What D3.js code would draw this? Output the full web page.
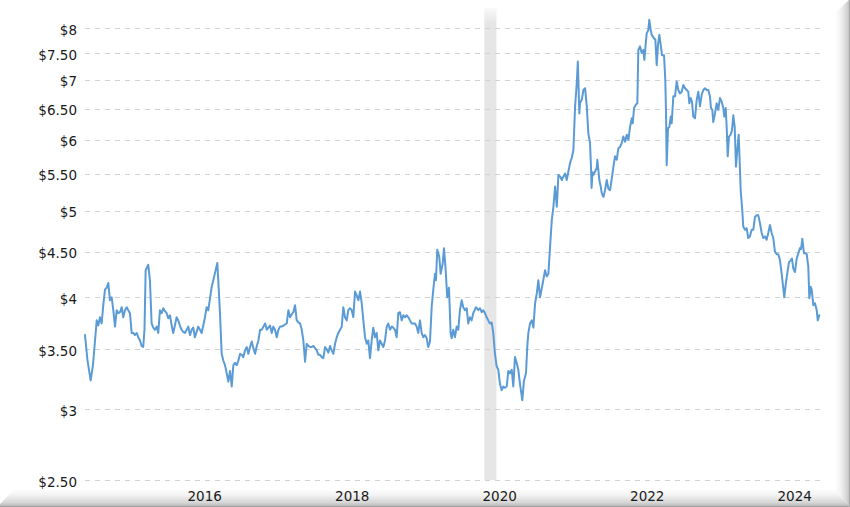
<!DOCTYPE html>
<html><head><meta charset="utf-8">
<script src="https://cdn.jsdelivr.net/npm/d3@7"></script>
<style>html,body{margin:0;padding:0;background:#fff;} svg{display:block;}</style>
</head><body><svg id="c" width="850" height="507"></svg>
<script>
// ---- data ----
const yTickValues = [2.5, 3, 3.5, 4, 4.5, 5, 5.5, 6, 6.5, 7, 7.5, 8];
const xTickYearStep = 2;
const recession = [2020.085, 2020.25]; // decimal years
// [decimal year, price]
const priceSeries = [
[2014.671,3.63],[2014.705,3.40],[2014.748,3.23],[2014.779,3.36],[2014.807,3.58],[2014.830,3.77],[2014.851,3.72],[2014.874,3.80],[2014.897,3.74],[2014.919,3.92],
[2014.942,4.08],[2014.965,4.10],[2014.987,4.15],[2015.010,3.97],[2015.033,4.00],[2015.055,3.87],[2015.078,3.71],[2015.101,3.87],[2015.123,3.84],[2015.146,3.85],
[2015.169,3.90],[2015.190,3.80],[2015.213,3.87],[2015.236,3.90],[2015.258,3.87],[2015.281,3.84],[2015.304,3.65],[2015.326,3.65],[2015.349,3.63],[2015.372,3.65],
[2015.394,3.61],[2015.417,3.58],[2015.440,3.53],[2015.461,3.52],[2015.478,3.68],[2015.494,4.29],[2015.512,4.32],[2015.529,4.35],[2015.552,4.18],[2015.575,3.74],
[2015.597,3.70],[2015.620,3.68],[2015.643,3.71],[2015.665,3.65],[2015.688,3.87],[2015.711,3.84],[2015.733,3.89],[2015.756,3.86],[2015.779,3.84],[2015.800,3.79],
[2015.824,3.82],[2015.847,3.72],[2015.868,3.65],[2015.891,3.72],[2015.914,3.80],[2015.936,3.77],[2015.959,3.72],[2015.982,3.68],[2016.004,3.66],[2016.027,3.65],
[2016.050,3.68],[2016.072,3.71],[2016.095,3.63],[2016.118,3.68],[2016.139,3.70],[2016.162,3.61],[2016.185,3.66],[2016.207,3.71],[2016.230,3.68],[2016.253,3.65],
[2016.275,3.72],[2016.298,3.80],[2016.321,3.90],[2016.343,3.87],[2016.366,3.99],[2016.389,4.11],[2016.411,4.18],[2016.434,4.26],[2016.465,4.37],[2016.478,4.18],
[2016.501,3.84],[2016.524,3.46],[2016.546,3.40],[2016.569,3.36],[2016.592,3.29],[2016.614,3.22],[2016.637,3.31],[2016.660,3.18],[2016.682,3.36],[2016.705,3.38],
[2016.728,3.36],[2016.750,3.40],[2016.773,3.46],[2016.796,3.45],[2016.817,3.43],[2016.840,3.49],[2016.863,3.52],[2016.885,3.46],[2016.908,3.52],[2016.931,3.57],
[2016.953,3.51],[2016.976,3.46],[2016.999,3.53],[2017.021,3.58],[2017.044,3.68],[2017.067,3.68],[2017.089,3.71],[2017.112,3.74],[2017.135,3.68],[2017.156,3.70],
[2017.179,3.72],[2017.202,3.65],[2017.224,3.71],[2017.247,3.68],[2017.270,3.61],[2017.292,3.68],[2017.315,3.71],[2017.338,3.71],[2017.360,3.72],[2017.383,3.73],
[2017.406,3.74],[2017.428,3.87],[2017.451,3.80],[2017.474,3.83],[2017.495,3.85],[2017.518,3.92],[2017.541,3.77],[2017.563,3.75],[2017.586,3.74],[2017.609,3.68],
[2017.631,3.58],[2017.654,3.39],[2017.677,3.55],[2017.699,3.53],[2017.722,3.52],[2017.745,3.52],[2017.767,3.53],[2017.790,3.51],[2017.813,3.49],[2017.834,3.45],
[2017.857,3.45],[2017.880,3.43],[2017.902,3.42],[2017.925,3.52],[2017.948,3.50],[2017.970,3.47],[2017.993,3.53],[2018.016,3.49],[2018.038,3.46],[2018.061,3.55],
[2018.084,3.61],[2018.106,3.65],[2018.129,3.68],[2018.152,3.71],[2018.173,3.90],[2018.196,3.80],[2018.219,3.77],[2018.241,3.87],[2018.264,3.89],[2018.287,3.87],
[2018.309,3.80],[2018.332,4.06],[2018.355,4.02],[2018.377,3.97],[2018.400,4.06],[2018.423,3.94],[2018.445,3.77],[2018.468,3.61],[2018.491,3.55],[2018.512,3.58],
[2018.535,3.42],[2018.558,3.58],[2018.580,3.70],[2018.603,3.61],[2018.626,3.65],[2018.648,3.49],[2018.671,3.58],[2018.694,3.55],[2018.716,3.52],[2018.739,3.58],
[2018.762,3.71],[2018.784,3.74],[2018.807,3.68],[2018.830,3.71],[2018.851,3.70],[2018.874,3.68],[2018.897,3.61],[2018.919,3.84],[2018.942,3.85],[2018.965,3.77],
[2018.987,3.82],[2019.010,3.80],[2019.033,3.82],[2019.055,3.80],[2019.078,3.77],[2019.101,3.74],[2019.123,3.74],[2019.145,3.74],[2019.168,3.71],[2019.190,3.65],
[2019.213,3.77],[2019.236,3.65],[2019.258,3.61],[2019.281,3.63],[2019.304,3.60],[2019.326,3.52],[2019.349,3.57],[2019.372,3.90],[2019.394,4.08],[2019.417,4.25],
[2019.430,4.18],[2019.448,4.52],[2019.475,4.44],[2019.494,4.25],[2019.521,4.36],[2019.539,4.54],[2019.562,4.29],[2019.583,4.00],[2019.607,4.10],[2019.629,3.65],
[2019.643,3.60],[2019.665,3.68],[2019.688,3.61],[2019.711,3.71],[2019.733,3.68],[2019.756,3.87],[2019.779,3.97],[2019.801,3.90],[2019.824,3.87],[2019.847,3.89],
[2019.868,3.74],[2019.891,3.80],[2019.914,3.77],[2019.936,3.84],[2019.973,3.90],[2020.004,3.87],[2020.027,3.89],[2020.050,3.85],[2020.072,3.87],[2020.095,3.84],
[2020.118,3.80],[2020.139,3.77],[2020.162,3.74],[2020.185,3.75],[2020.207,3.65],[2020.230,3.46],[2020.253,3.35],[2020.275,3.32],[2020.298,3.20],[2020.321,3.15],
[2020.343,3.18],[2020.366,3.17],[2020.389,3.18],[2020.411,3.31],[2020.434,3.29],[2020.457,3.32],[2020.478,3.18],[2020.501,3.43],[2020.524,3.38],[2020.546,3.32],
[2020.569,3.20],[2020.600,3.07],[2020.623,3.23],[2020.650,3.29],[2020.668,3.53],[2020.682,3.65],[2020.705,3.74],[2020.728,3.77],[2020.750,3.70],[2020.773,3.94],
[2020.796,4.04],[2020.817,4.18],[2020.840,4.00],[2020.877,4.15],[2020.908,4.29],[2020.931,4.22],[2020.953,4.25],[2020.976,4.56],[2020.999,4.88],[2021.021,5.05],
[2021.044,5.32],[2021.067,5.05],[2021.089,5.48],[2021.112,5.46],[2021.135,5.41],[2021.156,5.46],[2021.179,5.50],[2021.202,5.41],[2021.224,5.53],[2021.247,5.65],
[2021.270,5.73],[2021.292,5.84],[2021.315,6.53],[2021.338,6.94],[2021.352,7.34],[2021.373,6.42],[2021.383,6.60],[2021.406,6.65],[2021.428,6.82],[2021.451,6.85],
[2021.474,6.54],[2021.495,6.10],[2021.518,5.95],[2021.532,5.55],[2021.539,5.30],[2021.552,5.52],[2021.563,5.48],[2021.586,5.53],[2021.609,5.58],[2021.617,5.70],
[2021.631,5.55],[2021.644,5.41],[2021.663,5.32],[2021.677,5.23],[2021.699,5.18],[2021.722,5.27],[2021.745,5.41],[2021.767,5.29],[2021.790,5.27],[2021.813,5.43],
[2021.834,5.59],[2021.857,5.75],[2021.880,5.70],[2021.902,5.87],[2021.925,5.89],[2021.948,5.95],[2021.970,6.05],[2021.993,5.97],[2022.016,6.08],[2022.038,6.00],
[2022.061,6.20],[2022.084,6.34],[2022.097,6.26],[2022.115,6.51],[2022.142,6.57],[2022.160,6.59],[2022.173,7.56],[2022.196,7.63],[2022.219,7.50],[2022.241,7.56],
[2022.255,7.37],[2022.274,7.69],[2022.287,7.89],[2022.309,7.96],[2022.322,8.17],[2022.341,7.96],[2022.355,7.86],[2022.386,7.79],[2022.404,7.77],[2022.423,7.27],
[2022.440,7.66],[2022.458,7.86],[2022.477,7.66],[2022.495,7.46],[2022.522,7.46],[2022.539,7.00],[2022.549,6.43],[2022.558,5.62],[2022.576,6.18],[2022.594,6.20],
[2022.613,6.37],[2022.626,6.26],[2022.648,6.71],[2022.671,6.71],[2022.694,6.97],[2022.716,6.82],[2022.739,6.76],[2022.762,6.79],[2022.784,6.91],[2022.807,6.85],
[2022.830,6.82],[2022.851,6.79],[2022.865,6.59],[2022.884,6.68],[2022.901,6.62],[2022.919,6.37],[2022.942,6.34],[2022.965,6.65],[2022.987,6.79],[2023.010,6.54],
[2023.033,6.74],[2023.055,6.82],[2023.078,6.85],[2023.101,6.82],[2023.123,6.82],[2023.145,6.71],[2023.159,6.51],[2023.177,6.48],[2023.190,6.28],[2023.213,6.42],
[2023.236,6.59],[2023.258,6.48],[2023.281,6.68],[2023.304,6.62],[2023.326,6.51],[2023.340,6.37],[2023.359,6.51],[2023.372,6.20],[2023.386,5.75],[2023.403,6.05],
[2023.426,6.08],[2023.444,6.15],[2023.462,6.39],[2023.481,6.20],[2023.498,5.60],[2023.516,5.84],[2023.535,6.08],[2023.552,5.57],[2023.562,5.27],[2023.583,5.01],
[2023.597,4.80],[2023.620,4.76],[2023.643,4.78],[2023.665,4.66],[2023.688,4.68],[2023.711,4.76],[2023.733,4.76],[2023.756,4.92],[2023.779,4.94],[2023.801,4.94],
[2023.824,4.84],[2023.847,4.72],[2023.868,4.66],[2023.891,4.68],[2023.914,4.64],[2023.936,4.72],[2023.959,4.82],[2023.982,4.72],[2024.004,4.66],[2024.027,4.50],
[2024.050,4.47],[2024.072,4.47],[2024.095,4.40],[2024.118,4.25],[2024.139,4.10],[2024.153,4.00],[2024.172,4.13],[2024.193,4.25],[2024.217,4.38],[2024.240,4.40],
[2024.257,4.42],[2024.275,4.31],[2024.298,4.27],[2024.321,4.42],[2024.343,4.48],[2024.366,4.54],[2024.380,4.53],[2024.397,4.65],[2024.420,4.48],[2024.438,4.48],
[2024.457,4.47],[2024.478,4.33],[2024.492,3.99],[2024.511,4.11],[2024.524,4.08],[2024.546,3.92],[2024.569,3.94],[2024.592,3.87],[2024.606,3.77],[2024.627,3.82]
];

// ---- helpers ----
function toDate(dy){
  const yr = Math.floor(dy);
  const a = new Date(yr,0,1), b = new Date(yr+1,0,1);
  return new Date(+a + (dy-yr)*(b-a));
}
const fmtPrice = v => Number.isInteger(v) ? "$" + v : "$" + v.toFixed(2);

const W = 850, H = 507;
const plotLeft = 85, plotRight = 820, plotTop = 28, plotBottom = 480;
const FONT = "'DejaVu Sans', Verdana, sans-serif";

const svg = d3.select("#c");
const defs = svg.append("defs");

const x = d3.scaleTime()
  .domain([toDate(priceSeries[0][0]), toDate(priceSeries[priceSeries.length-1][0])])
  .range([plotLeft, 819.3]);
const y = d3.scaleLog().domain([2.5, 8]).range([plotBottom, plotTop]);

svg.append("rect").attr("width", W).attr("height", H).attr("fill", "#fff");

// recession band
const bandGrad = defs.append("linearGradient").attr("id","bandG").attr("x1",0).attr("y1",0).attr("x2",0).attr("y2",1);
bandGrad.append("stop").attr("offset","0").attr("stop-color","#e6e6e6").attr("stop-opacity",0.2);
bandGrad.append("stop").attr("offset","0.03").attr("stop-color","#e6e6e6").attr("stop-opacity",1);
bandGrad.append("stop").attr("offset","1").attr("stop-color","#e6e6e6").attr("stop-opacity",1);
svg.append("rect")
  .attr("x", x(toDate(recession[0])))
  .attr("width", x(toDate(recession[1])) - x(toDate(recession[0])))
  .attr("y", 8).attr("height", plotBottom - 8)
  .attr("fill", "url(#bandG)");

// gridlines
svg.append("g").selectAll("line").data(yTickValues).join("line")
  .attr("x1", plotLeft).attr("x2", plotRight)
  .attr("y1", d => Math.round(y(d)) + 0.5).attr("y2", d => Math.round(y(d)) + 0.5)
  .attr("stroke", "#d2d2d2").attr("stroke-width", 1).attr("stroke-dasharray", "5,5");

// line
const line = d3.line().x(d => x(toDate(d[0]))).y(d => y(d[1]));
svg.append("path").datum(priceSeries)
  .attr("d", line).attr("fill", "none")
  .attr("stroke", "#5b9bd5").attr("stroke-width", 2)
  .attr("stroke-linejoin", "round").attr("stroke-linecap", "round");

// frame shadow (bottom and right)
const gB = defs.append("linearGradient").attr("id","shB").attr("x1",0).attr("y1",0).attr("x2",0).attr("y2",1);
[["0","#ffffff"],["0.35","#f2f2f2"],["0.75","#d6d6d6"],["0.92","#bdbdbd"],["1","#8f8f8f"]]
  .forEach(s => gB.append("stop").attr("offset", s[0]).attr("stop-color", s[1]));
const gR = defs.append("linearGradient").attr("id","shR").attr("x1",0).attr("y1",0).attr("x2",1).attr("y2",0);
[["0","#ffffff"],["0.4","#f0f0f0"],["0.8","#d4d4d4"],["0.93","#c0c0c0"],["1","#949494"]]
  .forEach(s => gR.append("stop").attr("offset", s[0]).attr("stop-color", s[1]));
svg.append("polygon").attr("points", "835,13 850,-1 850,507 835,489").attr("fill", "url(#shR)");
svg.append("polygon").attr("points", "15,489 835,489 850,507 0,507 0,504").attr("fill", "url(#shB)");

// y axis
const yAxis = d3.axisLeft(y).tickValues(yTickValues).tickFormat(fmtPrice).tickSize(0).tickPadding(8);
const gy = svg.append("g").attr("transform", `translate(${plotLeft},0)`).call(yAxis);
gy.select(".domain").remove();
gy.selectAll("text").attr("dy", "0.45em")
  .style("font-family", FONT).style("font-size", "13.5px").attr("fill", "#1a1a1a");

// x axis
const xAxis = d3.axisBottom(x).ticks(d3.timeYear.every(xTickYearStep)).tickFormat(d3.timeFormat("%Y")).tickSize(0);
const gx = svg.append("g").attr("transform", `translate(0,500.7)`).call(xAxis);
gx.select(".domain").remove();
gx.selectAll("text").attr("y", 0).attr("dy", 0).attr("x", 4).attr("text-anchor", "start")
  .style("font-family", FONT).style("font-size", "13.5px").attr("fill", "#1a1a1a");
</script>
</body></html>
